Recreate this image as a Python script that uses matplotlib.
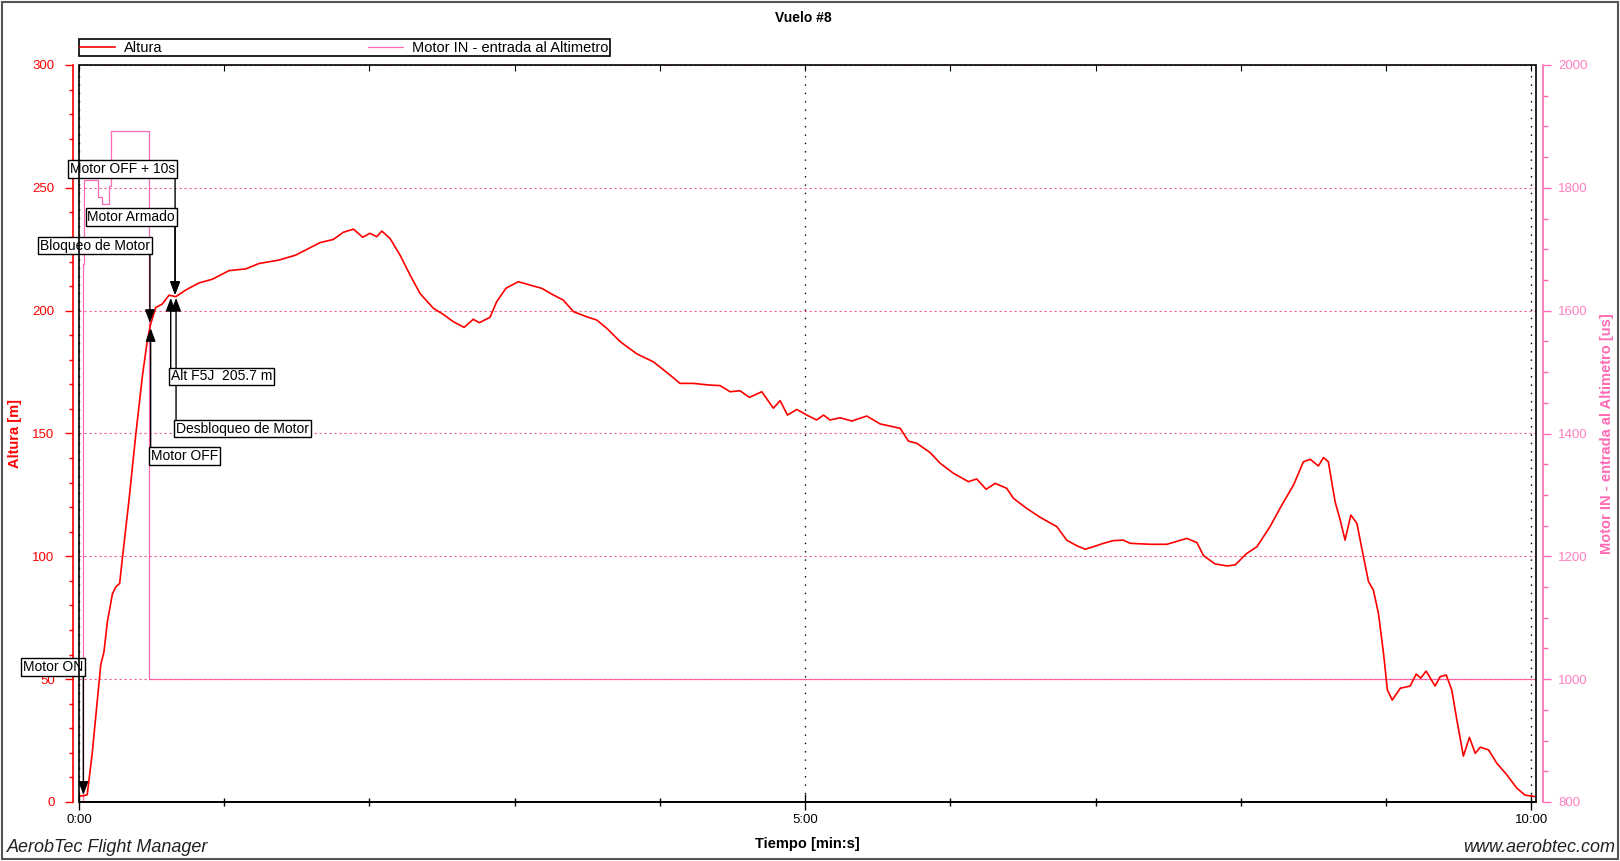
import matplotlib
matplotlib.use("Agg")
import matplotlib.pyplot as plt
from matplotlib.patches import Rectangle
from matplotlib.ticker import MultipleLocator, FuncFormatter

plt.rcParams['font.family'] = ['Liberation Sans', 'DejaVu Sans']

# Altura [m] vs tiempo [s]
alt_t = [0.4, 1.8, 3.4, 5.5, 7.6, 9.0, 10.3, 11.7, 13.8, 15.2, 16.8, 17.9, 20.7, 23.4,
         26.2, 28.2, 29.6, 31.7, 34.4, 37.2, 40.0, 44.1, 49.6, 55.1, 62.0, 68.9, 74.4,
         82.6, 89.5, 99.6, 105.1, 109.2, 113.4, 117.2, 120.2, 123.0, 125.1, 128.5, 132.6,
         136.8, 140.9, 146.4, 150.5, 154.7, 159.1, 162.9, 165.4, 169.8, 172.6, 176.4,
         181.5, 186.4, 191.2, 196.0, 200.1, 204.3, 209.8, 213.9, 218.1, 223.6, 230.5,
         237.3, 244.2, 248.3, 253.8, 260.7, 264.9, 269.0, 273.1, 277.0, 282.1, 286.9,
         289.7, 292.7, 296.6, 300.7, 304.8, 307.6, 310.3, 314.5, 319.3, 325.5, 331.0,
         339.3, 342.7, 346.2, 351.7, 355.8, 361.3, 367.5, 370.9, 374.8, 378.5, 383.3,
         386.1, 391.6, 397.1, 404.0, 408.1, 412.3, 415.7, 419.1, 423.3, 427.4, 431.5,
         434.3, 442.6, 449.5, 457.7, 461.9, 464.6, 469.4, 474.3, 477.7, 482.5, 486.7,
         492.1, 497.0, 501.8, 505.9, 508.7, 512.1, 514.2, 516.2, 519.0, 521.1, 523.1,
         525.5, 528.0, 530.7, 532.8, 534.8, 536.9, 539.0, 540.6, 542.6, 545.9, 550.0,
         552.5, 554.4, 556.6, 560.3, 562.4, 564.9, 567.2, 569.3, 572.0, 574.5, 576.9,
         579.0, 582.4, 585.8, 590.0, 594.1, 597.5, 601.7]
alt_m = [2.5, 2.5, 3.0, 20.2, 41.7, 56.0, 61.0, 73.2, 84.7, 87.5, 89.0, 99.0, 123.3, 149.0,
         173.4, 187.7, 194.5, 201.3, 202.7, 206.3, 205.7, 208.4, 211.3, 212.8, 216.3, 217.0,
         219.2, 220.6, 222.6, 227.7, 229.0, 231.9, 233.2, 229.9, 231.5, 230.1, 232.4, 229.4,
         222.7, 214.5, 207.0, 201.0, 198.5, 195.5, 193.2, 196.5, 195.1, 197.3, 203.7, 209.1,
         211.8, 210.4, 209.1, 206.4, 204.3, 199.6, 197.5, 196.2, 192.8, 187.4, 182.4,
         179.2, 173.8, 170.4, 170.4, 169.7, 169.5, 167.0, 167.4, 164.7, 167.0, 160.3,
         163.4, 157.5, 159.8, 157.5, 155.5, 157.5, 155.5, 156.4, 155.1, 157.1, 153.9,
         152.1, 146.9, 146.0, 142.2, 137.9, 133.8, 130.4, 131.5, 127.3, 129.7, 127.7,
         123.6, 119.5, 115.9, 112.1, 106.6, 104.3, 102.9, 103.9, 105.3, 106.4, 106.6,
         105.3, 104.9, 104.9, 107.3, 105.6, 100.3, 96.9, 96.1, 96.5, 101.2, 103.9,
         112.1, 120.9, 129.0, 138.5, 139.5, 136.8, 140.2, 138.5, 122.2, 114.8, 106.6,
         116.8, 113.4, 99.9, 89.7, 86.3, 76.8, 60.5, 45.6, 41.5, 46.3, 47.2,
         52.1, 50.4, 53.3, 47.2, 51.0, 51.7, 45.6, 33.4, 18.7, 26.3, 19.8,
         22.3, 21.2, 15.8, 11.0, 5.6, 2.8, 2.2]

# Motor IN [us], escalones
motor_t = [0.0, 1.5, 2.2, 8.0, 9.6, 12.5, 13.1, 29.0, 602.0]
motor_us = [800, 1676, 1812, 1785, 1773, 1803, 1893, 1000, 1000]

# eventos
ev_labels = ["Motor ON", "Bloqueo de Motor", "Motor OFF", "Motor OFF + 10s",
             "Motor Armado", "Alt F5J  205.7 m", "Desbloqueo de Motor"]
ev_t = [1.8, 29.3, 29.6, 39.7, 39.7, 37.9, 40.1]
ev_alt = [2.9, 195.0, 192.9, 206.4, 206.4, 205.2, 205.2]
box_alt = [52.1, 223.6, 143.7, 254.8, 235.3, 176.1, 154.8]
box_down = [True, True, False, True, True, False, False]

RED = '#ff0000'
PINK = '#ff69b4'
PINK_TXT = '#ff7fc0'
GRID = '#f0608c'

fig = plt.figure(figsize=(16.2, 8.61), dpi=100)
W, H = 1620, 861
ax = fig.add_axes([79 / W, 1 - 802 / H, (1536 - 79) / W, (802 - 65) / H])
ax2 = ax.twinx()
ax.set_zorder(2)
ax2.set_zorder(1)
ax.patch.set_visible(False)

l2, = ax2.plot(motor_t, motor_us, drawstyle='steps-post', color=PINK, lw=0.9,
               label='Motor IN - entrada al Altimetro')
l1, = ax.plot(alt_t, alt_m, color=RED, lw=1.2, label='Altura')

ax.set_xlim(0, 602)
ax.set_ylim(0, 300)
ax2.set_ylim(800, 2000)

# eje x
ax.xaxis.set_major_locator(MultipleLocator(300))
ax.xaxis.set_minor_locator(MultipleLocator(60))
ax.xaxis.set_major_formatter(FuncFormatter(lambda v, p: f"{int(v) // 60}:{int(v) % 60:02d}"))
ax.tick_params(axis='x', which='major', direction='inout', length=11, width=1,
               labelsize=9.5, pad=3, colors='black')
ax.tick_params(axis='x', which='minor', direction='inout', length=6, width=1)
ax.set_xlabel('Tiempo [min:s]', fontsize=10.5, fontweight='bold')
ax.xaxis.set_label_coords(0.5, -0.057)
ax.xaxis.label.set_va('center')

top = ax.secondary_xaxis('top')
top.xaxis.set_major_locator(MultipleLocator(60))
top.tick_params(direction='in', length=4, labeltop=False)
top.spines['top'].set_visible(False)

# eje y izquierdo
ax.yaxis.set_major_locator(MultipleLocator(50))
ax.yaxis.set_minor_locator(MultipleLocator(10))
ax.tick_params(axis='y', which='major', direction='out', length=6, width=1,
               colors=RED, labelsize=9.5, pad=7)
ax.tick_params(axis='y', which='minor', direction='out', length=3, width=1, colors=RED)
ax.spines['left'].set_position(('outward', 4.5))
ax.spines['left'].set_color(RED)
ax.spines['left'].set_linewidth(1.2)
for s in ['top', 'right']:
    ax.spines[s].set_visible(False)
ax.spines['bottom'].set_linewidth(1.2)
ax.set_ylabel('Altura [m]', color=RED, fontsize=10.5, fontweight='bold')
ax.yaxis.set_label_coords(-0.0439, 0.5)
ax.yaxis.label.set_va('center')

# eje y derecho
ax2.yaxis.set_major_locator(MultipleLocator(200))
ax2.yaxis.set_minor_locator(MultipleLocator(50))
ax2.tick_params(axis='y', which='major', direction='out', length=6, width=1,
                colors=PINK, labelcolor=PINK_TXT, labelsize=9.5, pad=5)
ax2.tick_params(axis='y', which='minor', direction='out', length=3.5, width=1, colors=PINK)
for s in ['top', 'left', 'bottom']:
    ax2.spines[s].set_visible(False)
ax2.spines['right'].set_position(('outward', 5))
ax2.spines['right'].set_color(PINK)
ax2.spines['right'].set_linewidth(1.2)
ax2.set_ylabel('Motor IN - entrada al Altimetro [us]', color=PINK, fontsize=10.5,
               fontweight='bold', rotation=90)
ax2.yaxis.set_label_coords(1.0487, 0.5)
ax2.yaxis.label.set_va('center')

# rejilla
ax.yaxis.grid(True, which='major', color=GRID, linestyle=(0, (2, 2.5)), lw=0.8)
ax.xaxis.grid(True, which='major', color='black', linestyle=(0, (1, 5)), lw=1)

# marco
ax.add_patch(Rectangle((0, 0), 1, 1, transform=ax.transAxes, fill=False,
                       ec='black', lw=1.2, zorder=10, clip_on=False))

# eventos
for lab, t, a, ba, down in zip(ev_labels, ev_t, ev_alt, box_alt, box_down):
    ax.annotate('', xy=(t, a), xytext=(t, ba),
                arrowprops=dict(arrowstyle='-|>,head_length=0.8,head_width=0.3',
                                color='black', lw=1, shrinkA=0, shrinkB=0,
                                mutation_scale=10), zorder=5)
    ax.text(t, ba, lab, ha='right' if down else 'left', va='bottom' if down else 'top',
            fontsize=10, zorder=6,
            bbox=dict(boxstyle='square,pad=0.12', fc='white', ec='black', lw=1))

# leyenda
ax.legend(handles=[l1, l2], loc='lower left', bbox_to_anchor=(0.0, 1.012, 0.3645, 0.025),
          mode='expand', ncol=2, borderaxespad=0, frameon=True, fancybox=False,
          edgecolor='black', fontsize=10.5, handlelength=2.4, handletextpad=0.6,
          borderpad=0.1, framealpha=1)
ax.get_legend().get_frame().set_linewidth(1.2)

fig.text(803 / W, 1 - 18 / H, 'Vuelo #8', ha='center', va='center',
         fontsize=10, fontweight='bold')
fig.text(7 / W, 1 - 852 / H, 'AerobTec Flight Manager', ha='left', va='baseline',
         fontsize=13, style='italic', color='#222222')
fig.text(1615 / W, 1 - 852 / H, 'www.aerobtec.com', ha='right', va='baseline',
         fontsize=13, style='italic', color='#222222')
fig.add_artist(Rectangle((2 / W, 2 / H), 1 - 4 / W, 1 - 4 / H, transform=fig.transFigure,
                         fill=False, ec='#555555', lw=1.5))

fig.savefig('out.png', dpi=100)
